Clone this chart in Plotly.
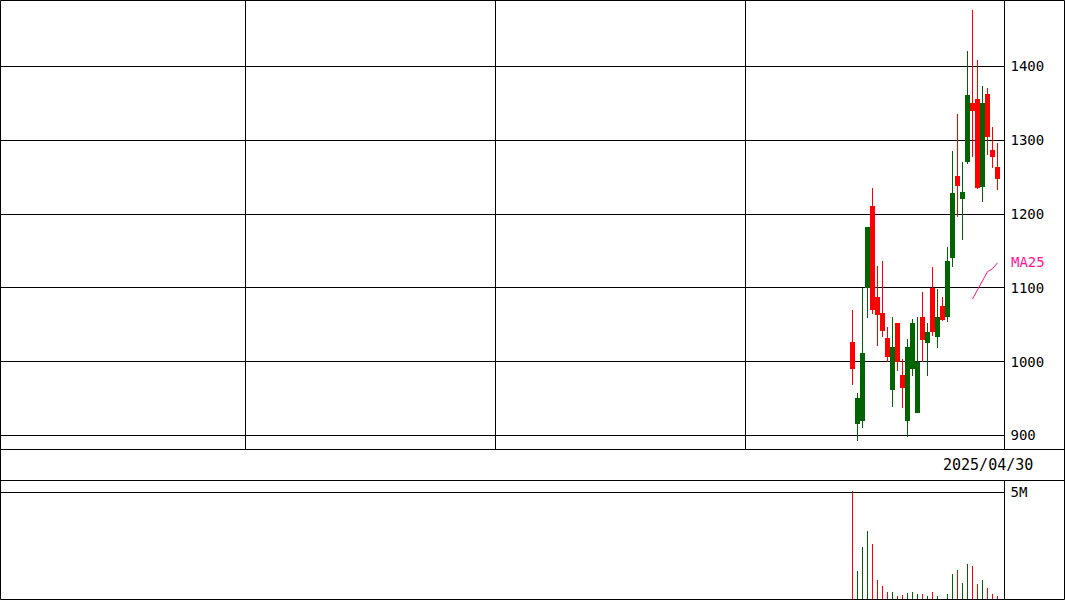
import plotly.graph_objects as go

# ---- data ----
idx = list(range(30))
opens  = [990, 951, 1012, 1182, 1070, 1063, 1042, 1007, 1020, 999, 965, 1020, 1052, 999, 1030,
          1040, 1040, 1061, 1056, 1136, 1228, 1238, 1230, 1362, 1340, 1235, 1351, 1305, 1277, 1248]
highs  = [1070, 957, 1100, 1182, 1236, 1130, 1136, 1047, 1061, 1052, 1004, 1031, 1058, 1060, 1095,
          1052, 1128, 1099, 1087, 1155, 1286, 1336, 1270, 1421, 1477, 1409, 1374, 1371, 1318, 1297]
lows   = [968, 893, 910, 1059, 1065, 1021, 1034, 1000, 938, 987, 937, 898, 980, 931, 1000,
          980, 1035, 1019, 1055, 1054, 1128, 1196, 1165, 1268, 1278, 1234, 1217, 1280, 1263, 1232]
closes = [1027, 915, 920, 1100, 1211, 1088, 1066, 1032, 962, 1052, 982, 920, 990, 931, 1060,
          1025, 1100, 1034, 1076, 1060, 1140, 1252, 1221, 1270, 1351, 1356, 1237, 1363, 1287, 1264]
volumes_m = [5.09, 1.39, 2.47, 3.24, 2.61, 0.94, 0.69, 0.39, 0.39, 0.19, 0.25, 0.34, 0.39, 0.32, 0.29,
             0.23, 0.39, 0.19, 0.09, 0.28, 1.22, 1.40, 0.80, 1.68, 1.59, 0.76, 0.94, 0.57, 0.29, 0.19]
ma_idx = [24, 25, 26, 27, 28, 29]
ma25 = [1085, 1098, 1110, 1122, 1126, 1134]
price_ticks = [900, 1000, 1100, 1200, 1300, 1400]
date_label = "2025/04/30"

UP = "#ff0000"
DOWN = "#006400"
colors = [UP if c >= o else DOWN for o, c in zip(opens, closes)]

W, H = 1065, 600
def px_x(p):
    return p / W
def px_y(p):
    return 1 - p / H

FONT = "DejaVu Sans Mono"

fig = go.Figure()

# wicks
fig.add_trace(go.Bar(
    x=idx, y=[h - l for h, l in zip(highs, lows)], base=lows, width=0.2,
    marker=dict(color=colors, line=dict(width=0)), xaxis="x", yaxis="y",
    hoverinfo="skip", showlegend=False))
# bodies
fig.add_trace(go.Bar(
    x=idx, y=[max(abs(c - o), 1.4) for o, c in zip(opens, closes)],
    base=[min(o, c) for o, c in zip(opens, closes)], width=1.0,
    marker=dict(color=colors, line=dict(width=0)), xaxis="x", yaxis="y",
    showlegend=False))
# MA25
fig.add_trace(go.Scatter(
    x=ma_idx, y=ma25, mode="lines", line=dict(color="#ff1493", width=1),
    xaxis="x", yaxis="y", showlegend=False, hoverinfo="skip"))
# volume
fig.add_trace(go.Bar(
    x=idx, y=[v * 1e6 for v in volumes_m], width=0.2,
    marker=dict(color=colors, line=dict(width=0)), xaxis="x2", yaxis="y2",
    showlegend=False))

x_range = [-852.5 / 5, (1004.5 - 852.5) / 5]
vgrid = [(245.5 - 852.5) / 5, (495.5 - 852.5) / 5, (745.5 - 852.5) / 5]

price_top = 1400 + 66.5 / 0.738
price_bot = 900 - (449.5 - 435.5) / 0.738

tickfont = dict(family=FONT, size=14, color="black")

fig.update_layout(
    width=W, height=H, margin=dict(l=0, r=0, t=0, b=0),
    paper_bgcolor="white", plot_bgcolor="white", template="none",
    barmode="overlay", bargap=0, bargroupgap=0, showlegend=False,
    font=dict(family=FONT, size=14, color="black"),
    xaxis=dict(domain=[0, 1004.5 / W], range=x_range, tickvals=vgrid,
               showticklabels=False, ticks="", showgrid=True, gridcolor="black",
               gridwidth=1, zeroline=False, showline=False, fixedrange=True),
    yaxis=dict(domain=[px_y(449.5), 1], range=[price_bot, price_top], side="right",
               tickvals=price_ticks, ticktext=[str(t) for t in price_ticks],
               ticks="", ticklabelstandoff=5, showgrid=True, gridcolor="black",
               gridwidth=1, zeroline=False, showline=False,
               tickfont=tickfont, fixedrange=True),
    xaxis2=dict(domain=[0, 1004.5 / W], range=x_range, anchor="y2",
                showticklabels=False, ticks="", showgrid=False, zeroline=False,
                showline=False, fixedrange=True),
    yaxis2=dict(domain=[0, px_y(480.5)], range=[0, 5.55e6], side="right", anchor="x2",
                tickvals=[5e6], ticktext=["5M"], ticks="", ticklabelstandoff=5,
                showgrid=True, gridcolor="black", gridwidth=1, zeroline=False,
                showline=False, tickfont=tickfont, fixedrange=True),
)

line = dict(color="black", width=1)
shapes = [
    dict(type="rect", xref="paper", yref="paper", x0=px_x(0.5), x1=px_x(1064.5),
         y0=px_y(0.5), y1=px_y(599.5), line=line),
    dict(type="line", xref="paper", yref="paper", x0=px_x(1004.5), x1=px_x(1004.5),
         y0=px_y(0), y1=px_y(449.5), line=line),
    dict(type="line", xref="paper", yref="paper", x0=px_x(1004.5), x1=px_x(1004.5),
         y0=px_y(480.5), y1=px_y(600), line=line),
    dict(type="line", xref="paper", yref="paper", x0=0, x1=1,
         y0=px_y(449.5), y1=px_y(449.5), line=line),
    dict(type="line", xref="paper", yref="paper", x0=0, x1=1,
         y0=px_y(480.5), y1=px_y(480.5), line=line),
]
fig.update_layout(shapes=shapes)

fig.add_annotation(text=date_label, xref="paper", yref="paper", x=px_x(1035), y=px_y(465),
                   xanchor="right", yanchor="middle", showarrow=False,
                   font=dict(family=FONT, size=15, color="black"))
fig.add_annotation(text="MA25", xref="paper", yref="y", x=px_x(1009), y=ma25[-1] + 1,
                   xanchor="left", yanchor="middle", showarrow=False,
                   font=dict(family=FONT, size=14, color="#ff1493"))

fig.write_html(
    "out.html",
    config={"displayModeBar": False},
    post_script="document.body.style.margin='0';document.body.style.overflow='hidden';",
)
